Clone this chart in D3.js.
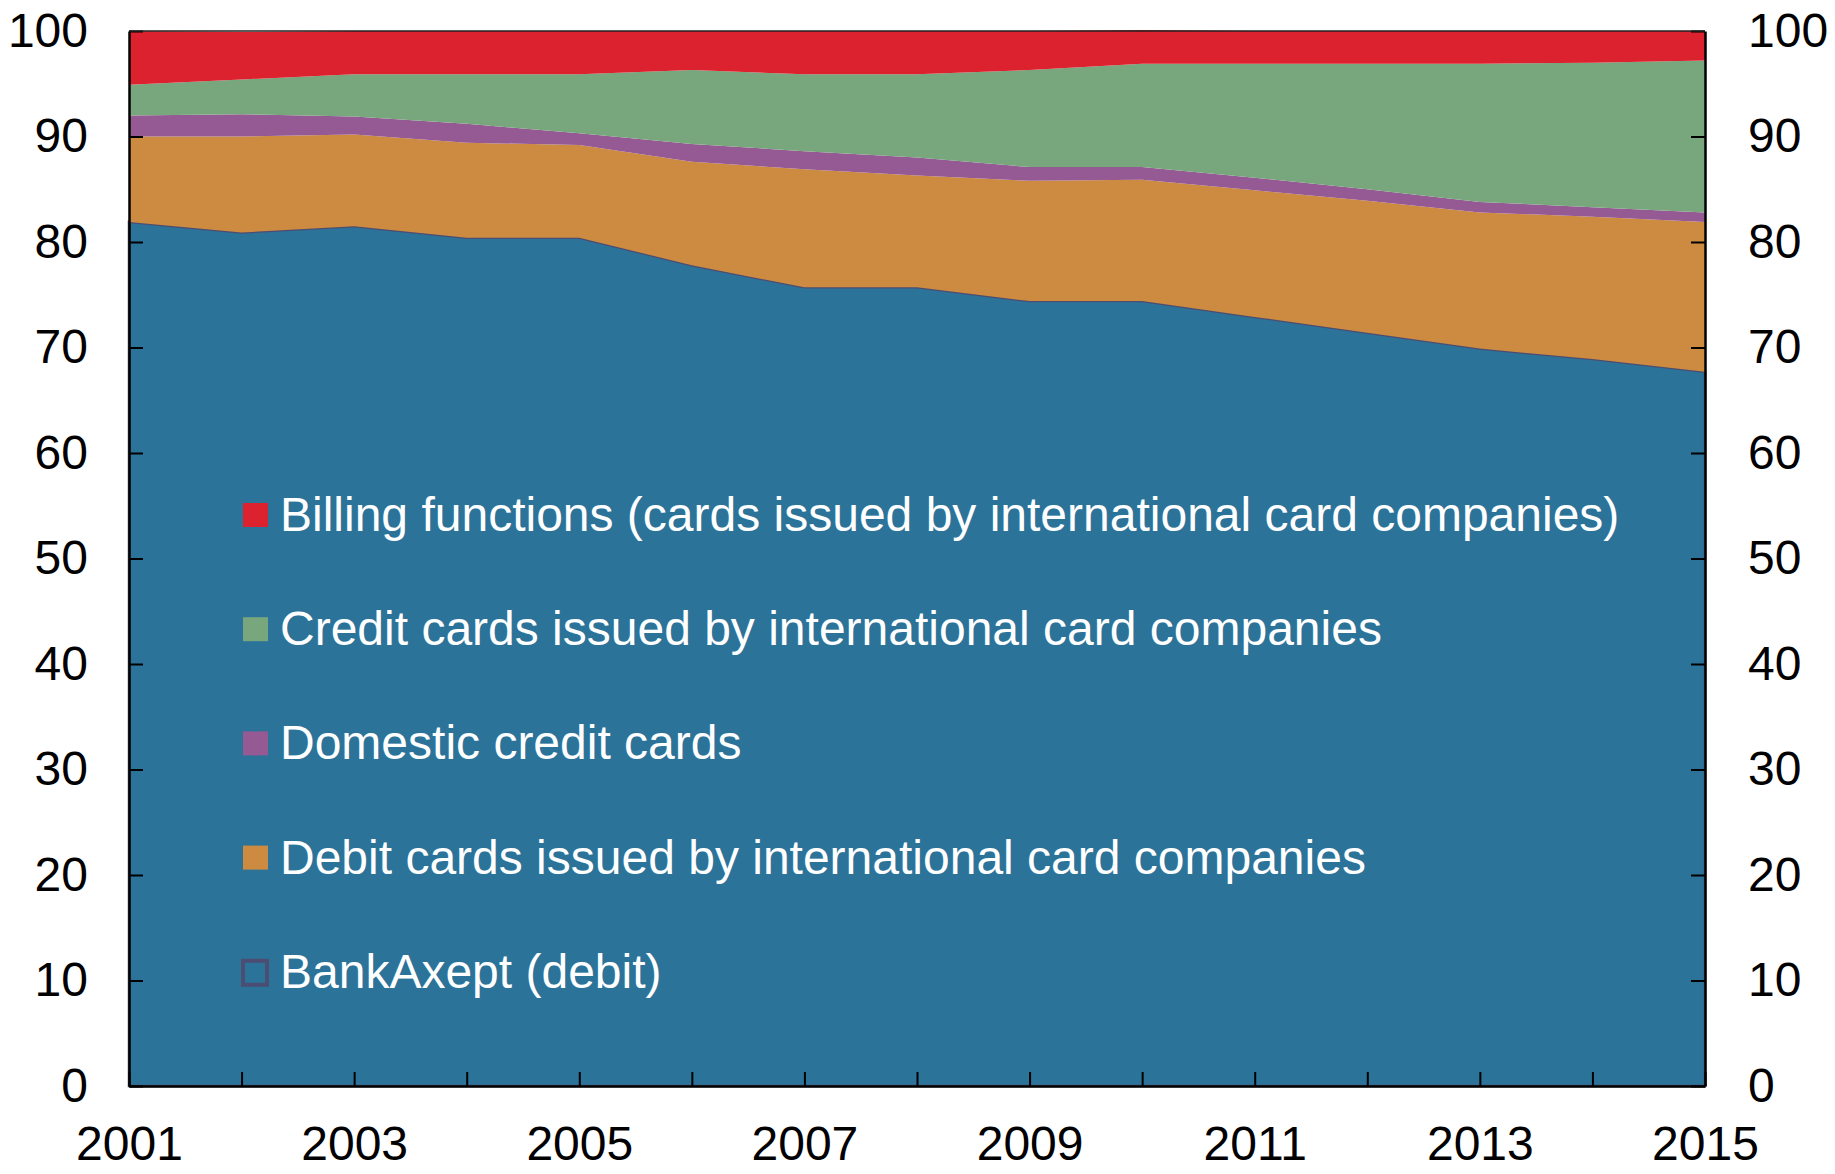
<!DOCTYPE html>
<html>
<head>
<meta charset="utf-8">
<script src="https://cdn.jsdelivr.net/npm/d3@7"></script>
<style>
  body { margin: 0; background: #fff; }
  text { font-family: "Liberation Sans", Arial, sans-serif; }
</style>
</head>
<body>
<script>
var years = [2001,2002,2003,2004,2005,2006,2007,2008,2009,2010,2011,2012,2013,2014,2015];
var bankAxept = [81.9,80.9,81.5,80.4,80.4,77.8,75.7,75.7,74.4,74.4,72.9,71.4,69.9,68.9,67.7];
var debitIntl = [8.1,9.1,8.7,9.0,8.8,9.8,11.2,10.6,11.4,11.5,12.0,12.5,12.9,13.5,14.2];
var domesticCredit = [2.0,2.1,1.7,1.8,1.1,1.7,1.7,1.7,1.3,1.2,1.2,1.1,1.0,0.9,0.9];
var creditIntl = [2.9,3.3,4.0,4.7,5.6,7.0,7.3,7.9,9.2,9.8,10.8,11.9,13.1,13.7,14.4];
var billing = [5.1,4.5,4.1,4.1,4.1,3.7,4.1,4.1,3.7,3.2,3.1,3.1,3.1,3.0,2.8];

var keys = ["bank","debit","domestic","credit","billing"];
var names = {
  billing: "Billing functions (cards issued by international card companies)",
  credit: "Credit cards issued by international card companies",
  domestic: "Domestic credit cards",
  debit: "Debit cards issued by international card companies",
  bank: "BankAxept (debit)"
};
var colors = {bank:"#2c739a", debit:"#cd8b41", domestic:"#955a93", credit:"#78a67d", billing:"#dc222e"};
var legendOrder = ["billing","credit","domestic","debit","bank"];
var yTicks = [0,10,20,30,40,50,60,70,80,90,100];
var xLabelYears = [2001,2003,2005,2007,2009,2011,2013,2015];

var W = 1835, H = 1174;
var margin = {top: 31, right: 130, bottom: 88, left: 129};
var w = W - margin.left - margin.right;
var h = H - margin.top - margin.bottom;

var table = years.map(function(y, i) {
  return {year: y, bank: bankAxept[i], debit: debitIntl[i], domestic: domesticCredit[i], credit: creditIntl[i], billing: billing[i]};
});

var svg = d3.select("body").append("svg")
  .attr("width", W).attr("height", H);
var g = svg.append("g").attr("transform", "translate(" + margin.left + "," + margin.top + ")");

var xScale = d3.scaleLinear().domain([2001, 2015]).range([0, w]);
var yScale = d3.scaleLinear().domain([0, 100]).range([h, 0]);

var series = d3.stack().keys(keys)(table);

var area = d3.area()
  .x(function(d) { return xScale(d.data.year); })
  .y0(function(d) { return yScale(d[0]); })
  .y1(function(d) { return yScale(d[1]); });

g.selectAll("path.layer")
  .data(series)
  .enter().append("path")
  .attr("class", "layer")
  .attr("d", area)
  .attr("fill", function(d) { return colors[d.key]; })
  .attr("stroke", function(d) { return d.key === "bank" ? "#4b4d72" : "none"; })
  .attr("stroke-width", 2.5);

// axes
var fs = "48px";
var yLeft = d3.axisLeft(yScale).tickValues(yTicks).tickSize(-14).tickSizeOuter(0).tickPadding(41);
var yRight = d3.axisRight(yScale).tickValues(yTicks).tickSize(-14).tickSizeOuter(0).tickPadding(43);
var xAxis = d3.axisBottom(xScale).tickValues(years).tickSize(-14).tickSizeOuter(0).tickPadding(40)
  .tickFormat(function(d) { return xLabelYears.indexOf(d) >= 0 ? d : ""; });

function style(sel) {
  sel.select(".domain").attr("stroke", "#000").attr("stroke-width", 2.5);
  sel.selectAll(".tick line").attr("stroke", "#000").attr("stroke-width", 2);
  sel.selectAll(".tick text").attr("fill", "#000").style("font-size", fs)
    .style("font-family", "'Liberation Sans', Arial, sans-serif");
}

g.append("g").call(yLeft).call(style);
g.append("g").attr("transform", "translate(" + w + ",0)").call(yRight).call(style);
g.append("g").attr("transform", "translate(0," + h + ")").call(xAxis).call(style);

g.append("line")
  .attr("x1", 0).attr("x2", w).attr("y1", 0).attr("y2", 0)
  .attr("stroke", "#222").attr("stroke-width", 1.5);

// legend
var legend = g.append("g").attr("transform", "translate(114,500)");
legendOrder.forEach(function(k, i) {
  var row = legend.append("g").attr("transform", "translate(0," + (i * 114.2) + ")");
  if (k === "bank") {
    row.append("rect").attr("x", 0).attr("y", -27).attr("width", 24).attr("height", 24)
      .attr("fill", "none").attr("stroke", "#4b4d72").attr("stroke-width", 4);
  } else {
    row.append("rect").attr("x", 0).attr("y", -28).attr("width", 25).attr("height", 24)
      .attr("fill", colors[k]);
  }
  row.append("text").attr("x", 37).attr("y", 0)
    .attr("fill", "#fff").style("font-size", fs)
    .text(names[k]);
});
</script>
</body>
</html>
